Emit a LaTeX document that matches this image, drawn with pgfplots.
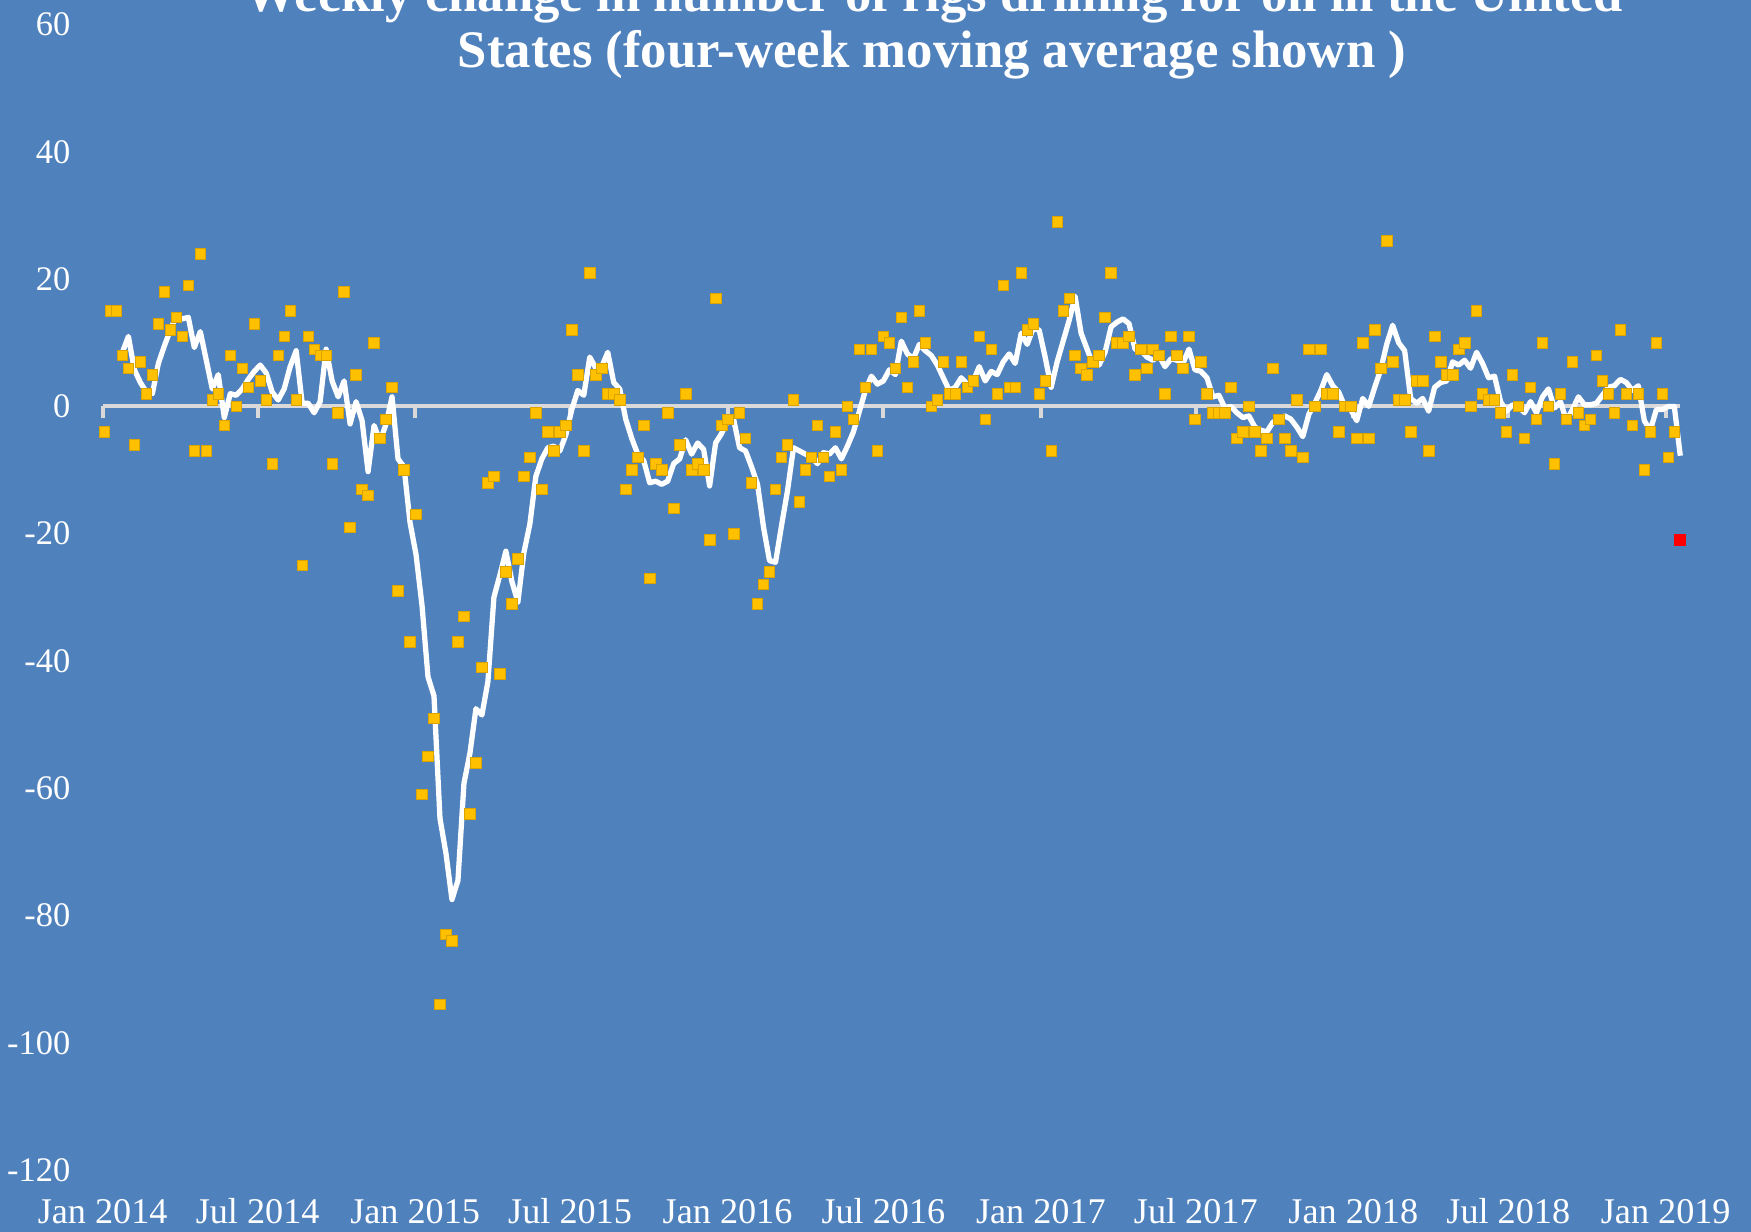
\documentclass[border=0pt]{standalone}
\usepackage{pgfplots}
\pgfplotsset{compat=1.18}
\usepackage{pgfplotstable}
\usepackage{fontspec}
\setmainfont{Liberation Serif}
\definecolor{bgblue}{HTML}{4F81BD}
\definecolor{gold}{HTML}{FFC000}
\definecolor{axgray}{HTML}{D9D9D9}

\pgfplotstableread{
w v
0 -4
1 15
2 15
3 8
4 6
5 -6
6 7
7 2
8 5
9 13
10 18
11 12
12 14
13 11
14 19
15 -7
16 24
17 -7
18 1
19 2
20 -3
21 8
22 0
23 6
24 3
25 13
26 4
27 1
28 -9
29 8
30 11
31 15
32 1
33 -25
34 11
35 9
36 8
37 8
38 -9
39 -1
40 18
41 -19
42 5
43 -13
44 -14
45 10
46 -5
47 -2
48 3
49 -29
50 -10
51 -37
52 -17
53 -61
54 -55
55 -49
56 -94
57 -83
58 -84
59 -37
60 -33
61 -64
62 -56
63 -41
64 -12
65 -11
66 -42
67 -26
68 -31
69 -24
70 -11
71 -8
72 -1
73 -13
74 -4
75 -7
76 -4
77 -3
78 12
79 5
80 -7
81 21
82 5
83 6
84 2
85 2
86 1
87 -13
88 -10
89 -8
90 -3
91 -27
92 -9
93 -10
94 -1
95 -16
96 -6
97 2
98 -10
99 -9
100 -10
101 -21
102 17
103 -3
104 -2
105 -20
106 -1
107 -5
108 -12
109 -31
110 -28
111 -26
112 -13
113 -8
114 -6
115 1
116 -15
117 -10
118 -8
119 -3
120 -8
121 -11
122 -4
123 -10
124 0
125 -2
126 9
127 3
128 9
129 -7
130 11
131 10
132 6
133 14
134 3
135 7
136 15
137 10
138 0
139 1
140 7
141 2
142 2
143 7
144 3
145 4
146 11
147 -2
148 9
149 2
150 19
151 3
152 3
153 21
154 12
155 13
156 2
157 4
158 -7
159 29
160 15
161 17
162 8
163 6
164 5
165 7
166 8
167 14
168 21
169 10
170 10
171 11
172 5
173 9
174 6
175 9
176 8
177 2
178 11
179 8
180 6
181 11
182 -2
183 7
184 2
185 -1
186 -1
187 -1
188 3
189 -5
190 -4
191 0
192 -4
193 -7
194 -5
195 6
196 -2
197 -5
198 -7
199 1
200 -8
201 9
202 0
203 9
204 2
205 2
206 -4
207 0
208 0
209 -5
210 10
211 -5
212 12
213 6
214 26
215 7
216 1
217 1
218 -4
219 4
220 4
221 -7
222 11
223 7
224 5
225 5
226 9
227 10
228 0
229 15
230 2
231 1
232 1
233 -1
234 -4
235 5
236 0
237 -5
238 3
239 -2
240 10
241 0
242 -9
243 2
244 -2
245 7
246 -1
247 -3
248 -2
249 8
250 4
251 2
252 -1
253 12
254 2
255 -3
256 2
257 -10
258 -4
259 10
260 2
261 -8
262 -4
}\weekly

\pgfplotstableread{
w m
3 8.5
4 11
5 5.75
6 3.75
7 2.25
8 2
9 6.75
10 9.5
11 12
12 14.25
13 13.75
14 14
15 9.25
16 11.75
17 7.25
18 2.75
19 5
20 -1.75
21 2
22 1.75
23 2.75
24 4.25
25 5.5
26 6.5
27 5.25
28 2.25
29 1
30 2.75
31 6.25
32 8.75
33 0.5
34 0.5
35 -1
36 0.75
37 9
38 4
39 1.5
40 4
41 -2.75
42 0.75
43 -2.25
44 -10.25
45 -3
46 -5.5
47 -2.75
48 1.5
49 -8.25
50 -9.5
51 -18.25
52 -23.25
53 -31.25
54 -42.5
55 -45.5
56 -64.75
57 -70.25
58 -77.5
59 -74.5
60 -59.25
61 -54.5
62 -47.5
63 -48.5
64 -43.25
65 -30
66 -26.5
67 -22.75
68 -27.5
69 -30.75
70 -23
71 -18.5
72 -11
73 -8.25
74 -6.5
75 -6.25
76 -7
77 -4.5
78 -0.5
79 2.5
80 1.75
81 7.75
82 6
83 6.25
84 8.5
85 3.75
86 2.75
87 -2
88 -5
89 -7.5
90 -8.5
91 -12
92 -11.75
93 -12.25
94 -11.75
95 -9
96 -8.25
97 -5.25
98 -7.5
99 -5.75
100 -6.75
101 -12.5
102 -5.75
103 -4.25
104 -2.25
105 -2
106 -6.5
107 -7
108 -9.5
109 -12.25
110 -19
111 -24.25
112 -24.5
113 -18.75
114 -13.25
115 -6.5
116 -7
117 -7.5
118 -8
119 -9
120 -7.25
121 -7.5
122 -6.5
123 -8.25
124 -6.25
125 -4
126 -0.75
127 2.5
128 4.75
129 3.5
130 4
131 5.75
132 5
133 10.25
134 8.25
135 7.5
136 9.75
137 8.75
138 8
139 6.5
140 4.5
141 2.5
142 3
143 4.5
144 3.5
145 4
146 6.25
147 4
148 5.5
149 5
150 7
151 8.25
152 6.75
153 11.5
154 9.75
155 12.25
156 12
157 7.75
158 3
159 7
160 10.25
161 13.5
162 17.25
163 11.5
164 9
165 6.5
166 6.5
167 8.5
168 12.5
169 13.25
170 13.75
171 13
172 9
173 8.75
174 7.75
175 7.25
176 8
177 6.25
178 7.5
179 7.25
180 6.75
181 9
182 5.75
183 5.5
184 4.5
185 1.5
186 1.75
187 -0.25
188 0
189 -1
190 -1.75
191 -1.5
192 -3.25
193 -3.75
194 -4
195 -2.5
196 -2
197 -1.5
198 -2
199 -3.25
200 -4.75
201 -1.25
202 0.5
203 2.5
204 5
205 3.25
206 2.25
207 0
208 -0.5
209 -2.25
210 1.25
211 0
212 3
213 5.75
214 9.75
215 12.75
216 10
217 8.75
218 1.25
219 0.5
220 1.25
221 -0.75
222 3
223 3.75
224 4
225 7
226 6.5
227 7.25
228 6
229 8.5
230 6.75
231 4.5
232 4.75
233 0.75
234 -0.75
235 0.25
236 0
237 -1
238 0.75
239 -1
240 1.5
241 2.75
242 -0.25
243 0.75
244 -2.25
245 -0.5
246 1.5
247 0.25
248 0.25
249 0.5
250 1.75
251 3
252 3.25
253 4.25
254 3.75
255 2.5
256 3.25
257 -2.25
258 -3.75
259 -0.5
260 -0.5
261 0
262 0
263 -7.75
}\avg

\begin{document}
\begin{tikzpicture}
\fill[bgblue] (0,0) rectangle (17.51,12.32);
\begin{scope}
\clip (0,0) rectangle (17.51,12.32);
\begin{axis}[
  at={(1.027cm,0.62cm)}, anchor=south west,
  scale only axis, width=15.776cm, height=11.454cm,
  xmin=-0.29, xmax=263, ymin=-120, ymax=60,
  axis line style={draw=none},
  major tick length=0pt,
  xtick={-0.29,25.57,51.86,77.71,104,130,156.29,182.14,208.43,234.29,260.57},
  xticklabels={Jan 2014,Jul 2014,Jan 2015,Jul 2015,Jan 2016,Jul 2016,Jan 2017,Jul 2017,Jan 2018,Jul 2018,Jan 2019},
  ytick={-120,-100,-80,-60,-40,-20,0,20,40,60},
  yticklabels={-120,-100,-80,-60,-40,-20,0,20,40,60},
  tick label style={text=white},
  xticklabel style={font=\fontsize{10.3}{12}\selectfont, anchor=base, yshift=-0.53cm, inner sep=0pt},
  yticklabel style={font=\fontsize{9.8}{11}\selectfont, anchor=east, xshift=-0.317cm, inner sep=0pt},
  clip=false,
]
\addplot[axgray, line width=1.1pt, forget plot] coordinates {(-0.29,0) (263,0)};
\pgfplotsinvokeforeach{-0.29,25.57,51.86,77.71,104,130,156.29,182.14,208.43,234.29,260.57}{
  \draw[axgray, line width=1.1pt] (axis cs:#1,0) -- ([yshift=-0.12cm]axis cs:#1,0);
}
\addplot[only marks, mark=square*, mark size=1.5pt,
  mark options={fill=gold, draw=gold!85!black, line width=0.2pt}] table[x=w, y=v] {\weekly};
\addplot[white, line width=1.5pt, line join=round, mark=none] table[x=w, y=m] {\avg};
\addplot[only marks, mark=square*, mark size=1.5pt,
  mark options={fill=red, draw=red}] coordinates {(263,-21)};
\end{axis}
\node[overlay, anchor=base, text=white, font=\fontsize{15}{17}\selectfont\bfseries] at (9.34,12.20) {Weekly change in number of rigs drilling for oil in the United};
\node[anchor=base, text=white, font=\fontsize{15}{17}\selectfont\bfseries] at (9.32,11.64) {States (four-week moving average shown )};
\end{scope}
\end{tikzpicture}
\end{document}
